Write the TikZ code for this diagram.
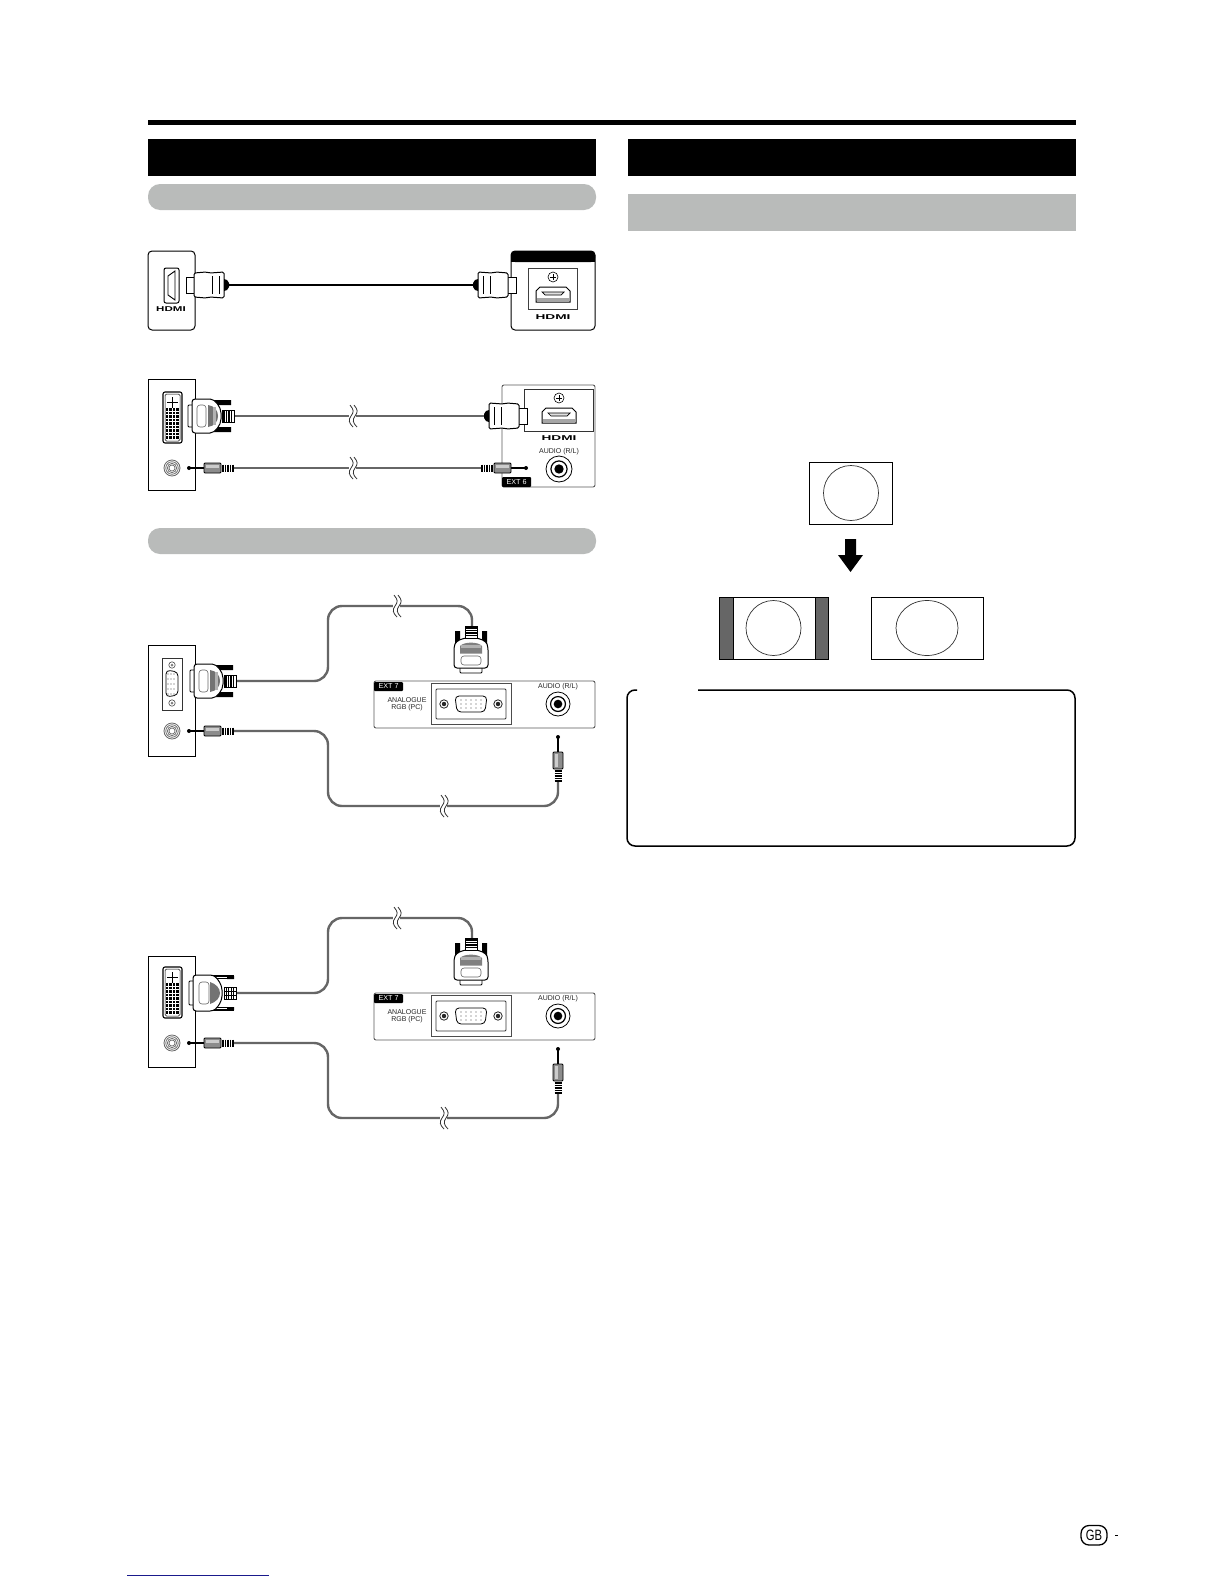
\documentclass[tikz,border=0pt]{standalone}
\usepackage{fontspec}
\setmainfont{Liberation Sans}
\definecolor{pillgray}{HTML}{B9BBBA}
\definecolor{cablegray}{HTML}{666666}
\definecolor{bargray}{HTML}{666666}
\definecolor{linkblue}{HTML}{1A1A8C}
\tikzset{
  x=1pt,y=-1pt,
  panel/.style={draw=black,line width=1pt,fill=white},
  softpanel/.style={draw=black!65,line width=.9pt,fill=white,rounded corners=2pt},
  cable/.style={draw=cablegray,line width=2.4pt},
  blackcable/.style={draw=black,line width=1.6pt},
  small label/.style={font=\fontsize{7}{7.6}\selectfont,inner sep=0pt,text=black!85,align=center},
  extlabel/.style={font=\fontsize{7.2}{8}\selectfont,inner sep=0pt,text=white},
  hdmi label/.style={font=\bfseries\fontsize{7}{8}\selectfont,inner sep=0pt},
  screen/.style={draw=black,line width=.9pt,fill=white},
  picture circle/.style={draw=black!80,line width=.7pt},
}
\newcommand{\hdmiplug}[3]{%
 \begin{scope}[shift={(#1,#2)},xscale=#3]
  \draw[fill=white,line width=1pt] (-42,-8) rectangle (-33,8);
  \draw[fill=white,line width=1pt,rounded corners=1.5pt] (-34,-12) -- (-22,-13) -- (-18,-12) -- (-4,-13) -- (-4,13) -- (-18,12) -- (-22,13) -- (-34,12) -- cycle;
  \draw[line width=.7pt] (-16,-9) -- (-16,9) (-9,-9) -- (-9,9);
  \fill[black] (-4,-6) -- (-1,-5) -- (1,-2) -- (1,2) -- (-1,5) -- (-4,6) -- cycle;
 \end{scope}}
\newcommand{\dplug}[2]{%
 \begin{scope}[shift={(#1,#2)}]
  \fill[black] (-21,-16) rectangle (-4,-11) (-21,11) rectangle (-4,16);
  \draw[fill=white,line width=.9pt,rounded corners=1pt] (-47,-11) rectangle (-40,11);
  \draw[fill=white,line width=1pt,rounded corners=3pt] (-43,-17) -- (-28,-17) .. controls (-20,-17) and (-14,-9) .. (-14,0) .. controls (-14,9) and (-20,17) .. (-28,17) -- (-43,17) -- cycle;
  \draw[black!60,line width=.6pt,rounded corners=3pt] (-38,-11) rectangle (-29,11);
  \fill[black!55] (-27,-11) .. controls (-20,-10) and (-17,-5) .. (-17,0) .. controls (-17,5) and (-20,10) .. (-27,11) -- cycle;
  \fill[black!30] (-22,-9) rectangle (-19,9);
  \draw[fill=white,line width=.8pt] (-13,-6) rectangle (-1,6);
  \foreach \k in {-11,-8.5,-6,-3.5} \draw[line width=1.2pt] (\k,-6) -- (\k,6);
 \end{scope}}
% wider DVI plug with grid strain relief (last diagram)
\newcommand{\dplugwide}[2]{%
 \begin{scope}[shift={(#1,#2)}]
  \draw[line width=1.1pt] (-27,-17) -- (-3,-17) (-27,-14.5) -- (-5,-14.5) (-27,17) -- (-3,17) (-27,14.5) -- (-5,14.5);
  \fill[black] (-10,-17) rectangle (-3,-14) (-10,14) rectangle (-3,17);
  \draw[fill=white,line width=.9pt,rounded corners=1pt] (-48,-12) rectangle (-42,12);
  \draw[fill=white,line width=1pt,rounded corners=3pt] (-44,-18) -- (-24,-18) .. controls (-19,-14) and (-15,-8) .. (-15,0) .. controls (-15,8) and (-19,14) .. (-24,18) -- (-44,18) -- cycle;
  \draw[black!60,line width=.6pt,rounded corners=3pt] (-38,-11) rectangle (-28,11);
  \fill[black!55] (-27,-11) .. controls (-21,-9) and (-17,-5) .. (-17,0) .. controls (-17,5) and (-21,9) .. (-27,11) -- cycle;
  \draw[fill=white,line width=.8pt] (-13,-6) rectangle (-1,6);
  \foreach \k in {-11,-8.5,-6,-3.5} \draw[line width=1pt] (\k,-6) -- (\k,6);
  \draw[line width=.6pt] (-13,-2) -- (-1,-2) (-13,2) -- (-1,2);
 \end{scope}}
\newcommand{\audioplug}[3]{%
 \begin{scope}[shift={(#1,#2)},xscale=#3]
  \draw[line width=1.3pt] (-44,0) -- (-29,0);
  \fill[black] (-44,0) circle (2pt);
  \draw[fill=black!45,line width=.8pt,rounded corners=1pt] (-29,-5) rectangle (-12,5);
  \fill[black!20] (-27,-3) rectangle (-14,0);
  \foreach \k in {-10,-7.5,-5,-2.5,0} \draw[line width=1.2pt] (\k,-3.5) -- (\k,3.5);
 \end{scope}}
\newcommand{\breakmark}[2]{%
 \begin{scope}[shift={(#1,#2)}]
  \fill[white] (-3,-10) rectangle (4,10);
  \draw[line width=.8pt,black!80] (-2,-11) .. controls (2,-6) and (2,-4) .. (-1,0) .. controls (-4,4) and (-3,7) .. (1,11);
  \draw[line width=.8pt,black!80] (2,-11) .. controls (6,-6) and (6,-4) .. (3,0) .. controls (0,4) and (1,7) .. (5,11);
 \end{scope}}
\newcommand{\ringjack}[3]{%
 \draw[line width=.8pt,black!60] (#1,#2) circle (#3pt);
 \draw[line width=.8pt,black!55] (#1,#2) circle (#3*.78pt);
 \draw[line width=.8pt,black!55] (#1,#2) circle (#3*.58pt);
 \draw[line width=.7pt,black!60] (#1,#2) circle (#3*.38pt);}
\newcommand{\tvjack}[3]{%
 \draw[line width=.8pt] (#1,#2) circle (#3pt);
 \draw[line width=1.2pt] (#1,#2) circle (#3*.62pt);
 \fill[black] (#1,#2) circle (#3*.36pt);}
\newcommand{\hdmiport}[2]{%
 \begin{scope}[shift={(#1,#2)}]
  \draw[line width=1pt,fill=white] (-17,-4) -- (-13,-8) -- (13,-8) -- (17,-4) -- (17,7) -- (-17,7) -- cycle;
  \draw[line width=.7pt,fill=black!12] (-11,-3) -- (11,-3) -- (8,0) -- (-8,0) -- cycle;
  \fill[black!35] (-16,3) rectangle (16,6);
 \end{scope}}
\newcommand{\plussign}[2]{%
 \draw[line width=.6pt] (#1,#2) circle (5pt);
 \draw[line width=.7pt] (#1-3,#2) -- (#1+3,#2) (#1,#2-3) -- (#1,#2+3);}
\newcommand{\dviport}[2]{%
 \begin{scope}[shift={(#1,#2)}]
  \draw[line width=1.1pt,fill=white,rounded corners=2pt] (0,0) rectangle (19,51);
  \draw[line width=.5pt,rounded corners=1.5pt] (2,2) rectangle (17,49);
  \draw[line width=1.5pt] (9.5,5) -- (9.5,16) (4,10.5) -- (15,10.5);
  \foreach \cx in {4,7.5,11,14.5} \foreach \cy in {16,19.5,...,47} \fill[black] (\cx-1.3,\cy) rectangle +(2.6,2.6);
 \end{scope}}
\newcommand{\vgascrew}[2]{%
 \draw[line width=.8pt,black!85] (#1,#2) circle (4.2pt);
 \fill[black!85] (#1,#2) circle (2.2pt);}
\newcommand{\vgapins}[4]{%
 \foreach \k in {-2,-1,0,1,2} \foreach \r in {-1,0,1}
   \fill[black!70] (#1+\k*#3,#2+\r*#4) circle (.6pt);}
\newcommand{\extseven}[1]{%
 \begin{scope}[yshift=#1]
  \draw[softpanel] (374,681) rectangle (595,728);
  \fill[black,rounded corners=1pt] (374,682) rectangle (403,691);
  \node[extlabel] (ext7#1) at (388.5,686.5) {EXT 7};
  \node[small label] (ana#1) at (407,700) {ANALOGUE};
  \node[small label] (rgb#1) at (407,708) {RGB (PC)};
  \draw[line width=.8pt,black!70,fill=white] (431,683) rectangle (511,724);
  \draw[line width=.9pt,black!80,rounded corners=1pt] (436,689) rectangle (506,719);
  \vgascrew{444}{704}\vgascrew{498}{704}
  \draw[line width=.8pt,rounded corners=4pt] (455,696) -- (487,696) -- (485,712) -- (457,712) -- cycle;
  \vgapins{471}{704}{5}{4}
  \node[small label] (aud#1) at (558,687) {AUDIO (R/L)};
  \tvjack{558}{704}{12}
 \end{scope}}
\newcommand{\vplug}[1]{%
 \begin{scope}[yshift=#1]
  \fill[black] (455,631) rectangle (460,645) (482,631) rectangle (487,645);
  \draw[fill=white,line width=.8pt,rounded corners=1pt] (460,665) rectangle (482,673);
  \draw[fill=white,line width=1pt,rounded corners=3pt] (454,668) -- (454,647) .. controls (456,641) and (462,638) .. (471,638) .. controls (480,638) and (486,641) .. (488,647) -- (488,668) -- cycle;
  \draw[black!60,line width=.6pt,rounded corners=3pt] (461,656) rectangle (481,665);
  \fill[black!50] (460,653.5) -- (460,646) .. controls (464,641.5) and (478,641.5) .. (482,646) -- (482,653.5) -- cycle;
  \fill[black!30] (461,645) rectangle (481,648);
  \draw[fill=white,line width=.8pt] (465,626) rectangle (477,638);
  \foreach \k in {628,630.5,633,635.5} \draw[line width=1.2pt] (465,\k) -- (477,\k);
 \end{scope}}
\newcommand{\vaudio}[1]{%
 \begin{scope}[yshift=#1]
  \draw[line width=1.3pt] (558,737) -- (558,752);
  \fill[black] (558,737) circle (2pt);
  \draw[fill=black!45,line width=.8pt,rounded corners=1pt] (553,752) rectangle (563,769);
  \fill[black!20] (555,754) rectangle (558,767);
  \foreach \k in {771,773.5,776,778.5,781} \draw[line width=1.2pt] (554.5,\k) -- (561.5,\k);
 \end{scope}}
\begin{document}
\begin{tikzpicture}
\useasboundingbox (0,0) rectangle (1224,1584);
\fill[white] (0,0) rectangle (1224,1584);
\fill[black] (148,120) rectangle (1076,125);
\fill[black] (148,139) rectangle (596,176);
\fill[black] (628,139) rectangle (1076,176);
\fill[pillgray,rounded corners=12pt] (148,184) rectangle (596,210);
\fill[pillgray,rounded corners=12pt] (148,528) rectangle (596,554);
\fill[pillgray] (628,194) rectangle (1076,231);
%% ---- diagram 1
\coordinate (c1a) at (228,285);
\coordinate (c1b) at (474,285);
\draw[panel,rounded corners=4pt] (148,251) rectangle (195,330);
\draw[line width=1pt,fill=white,rounded corners=2pt] (164,268) rectangle (179,303);
\draw[line width=.9pt] (175,271) -- (168,276) -- (168,295) -- (175,300) -- cycle;
\node[hdmi label,xscale=1.65] (h1) at (171,309) {HDMI};
\draw[panel,rounded corners=4pt] (511,251) rectangle (595,330);
\fill[black,rounded corners=4pt] (511,251) rectangle (595,262);
\fill[black] (511,257) rectangle (595,262);
\draw[line width=.7pt,black!75] (528,268) rectangle (577,309);
\plussign{553}{277}
\hdmiport{553}{295}
\node[hdmi label,xscale=1.95] (h2) at (553,317) {HDMI};
\draw[blackcable] (c1a) -- (c1b);
\hdmiplug{228}{285}{1}
\hdmiplug{474}{285}{-1}
%% ---- diagram 2
\draw[panel] (148,379) rectangle (195,490);
\dviport{163}{392}
\ringjack{172}{468}{8}
\draw[softpanel] (502,385) rectangle (595,487);
\draw[line width=.8pt,black!80,fill=white] (524,389) rectangle (593,431);
\plussign{559}{398}
\hdmiport{559}{416}
\node[hdmi label,xscale=1.95] (h3) at (559,438) {HDMI};
\node[small label] (a3) at (559,452) {AUDIO (R/L)};
\tvjack{559}{469}{13}
\fill[black,rounded corners=1pt] (502,477) rectangle (531,487);
\node[extlabel] (e6) at (516.5,482) {EXT 6};
\coordinate (c2a) at (234,416);
\coordinate (c2b) at (485,416);
\coordinate (c2c) at (233,468);
\coordinate (c2d) at (482,468);
\draw[cable] (c2a) -- (c2b);
\draw[cable] (c2c) -- (c2d);
\breakmark{352}{416}
\breakmark{352}{468}
\dplug{235}{416}
\hdmiplug{485}{416}{-1}
\audioplug{233}{468}{1}
\audioplug{482}{468}{-1}
%% ---- diagram 3
\draw[panel] (148,645) rectangle (195,756);
\draw[line width=.8pt,black!80,fill=white] (162,658) rectangle (182,710);
\draw[line width=.6pt,black!70] (172,665) circle (3.2pt) (172,703) circle (3.2pt);
\fill[black!50] (172,665) circle (1.5pt) (172,703) circle (1.5pt);
\draw[line width=.8pt,rounded corners=4pt] (166,670) -- (178,672) -- (178,695) -- (166,697) -- cycle;
\foreach \i in {0,1,2,3,4} \foreach \j in {0,1,2} \fill[black!70] (168+\j*3,674+\i*5) circle (.6pt);
\ringjack{172}{731}{8}
\extseven{0pt}
\coordinate (c3a) at (236,681);
\coordinate (c3b) at (472,626);
\coordinate (c3c) at (233,731);
\coordinate (c3d) at (558,781);
\draw[cable,rounded corners=14pt] (c3a) -- (328,681) -- (328,606) -- (472,606) -- (c3b);
\draw[cable,rounded corners=14pt] (c3c) -- (328,731) -- (328,806) -- (558,806) -- (c3d);
\breakmark{396}{606}
\breakmark{443}{806}
\dplug{237}{681}
\vplug{0pt}
\audioplug{233}{731}{1}
\vaudio{0pt}
%% ---- diagram 4
\draw[panel] (148,956) rectangle (195,1067);
\dviport{163}{967}
\ringjack{172}{1043}{8}
\extseven{-312pt}
\coordinate (c4a) at (236,993);
\coordinate (c4b) at (472,938);
\coordinate (c4c) at (233,1043);
\coordinate (c4d) at (558,1093);
\draw[cable,rounded corners=14pt] (c4a) -- (328,993) -- (328,918) -- (472,918) -- (c4b);
\draw[cable,rounded corners=14pt] (c4c) -- (328,1043) -- (328,1118) -- (558,1118) -- (c4d);
\breakmark{396}{918}
\breakmark{443}{1118}
\dplugwide{237}{993}
\vplug{-312pt}
\audioplug{233}{1043}{1}
\vaudio{-312pt}
%% ---- aspect pictures
\draw[screen] (809,462) rectangle (892.5,524);
\draw[picture circle] (851,493) circle (27.5pt);
\fill[black] (845,539) -- (856,539) -- (856,555) -- (863,555) -- (850.5,572) -- (838,555) -- (845,555) -- cycle;
\draw[screen] (719,597) rectangle (828,659);
\draw[screen,fill=bargray] (719,597) rectangle (733,659);
\draw[screen,fill=bargray] (815,597) rectangle (828,659);
\draw[picture circle] (773.5,628) circle (27.5pt);
\draw[screen] (871,597) rectangle (983,659);
\draw[picture circle] (927,628) ellipse (31pt and 27.5pt);
%% ---- note box
\draw[line width=1.5pt,rounded corners=8pt] (698,690) -- (1075,690) -- (1075,846) -- (627,846) -- (627,690) -- (637,690);
%% ---- footer
\draw[line width=1.3pt,rounded corners=8pt] (1081,1525.5) rectangle (1107,1545);
\node[inner sep=0pt,font=\fontsize{15}{16}\selectfont,xscale=.75] (gb) at (1094,1535) {GB};
\fill[black] (1115,1534.5) rectangle (1118,1536);
\draw[linkblue,line width=1pt] (127,1575.5) -- (269,1575.5);
\end{tikzpicture}
\end{document}
